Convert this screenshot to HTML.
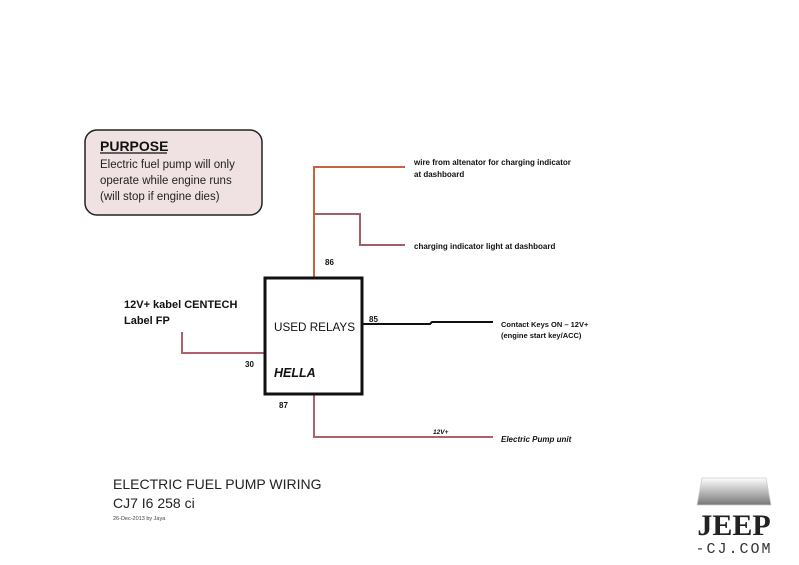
<!DOCTYPE html>
<html><head><style>
body{margin:0;background:#fff;}
svg{display:block;}
text{font-family:"Liberation Sans",sans-serif;}
</style></head><body>
<svg width="799" height="565" viewBox="0 0 799 565" xmlns="http://www.w3.org/2000/svg">
<rect width="799" height="565" fill="#fff"/>
<rect x="85" y="130" width="177" height="85" rx="12" fill="#f0e2e2" stroke="#222" stroke-width="1.5"/>
<text x="100" y="151" font-size="14" font-weight="bold" fill="#111">PURPOSE</text>
<line x1="100" y1="153" x2="167" y2="153" stroke="#111" stroke-width="1.2"/>
<text x="100" y="168" font-size="11.5" fill="#222">Electric fuel pump will only</text>
<text x="100" y="184" font-size="11.5" fill="#222">operate while engine runs</text>
<text x="100" y="200" font-size="11.5" fill="#222">(will stop if engine dies)</text>
<g fill="none" stroke-width="2">
<polyline points="314,277 314,167 405,167" stroke="#c8623a"/>
<polyline points="314,214 360,214 360,245 405,245" stroke="#a0606a"/>
<polyline points="362,324 430,324 432,322 493,322" stroke="#111"/>
<polyline points="182,332 182,353 264,353" stroke="#b0606a"/>
<polyline points="314,394 314,437 493,437" stroke="#b0606a"/>
</g>
<rect x="265" y="278" width="97" height="116" fill="#fff" stroke="#111" stroke-width="3"/>
<text x="274" y="331" font-size="12" fill="#111" textLength="81" lengthAdjust="spacingAndGlyphs">USED RELAYS</text>
<text x="274" y="377" font-size="12.5" font-weight="bold" font-style="italic" fill="#111">HELLA</text>
<g font-size="8" font-weight="bold" fill="#111">
<text x="325" y="265">86</text>
<text x="369" y="322">85</text>
<text x="245" y="367">30</text>
<text x="279" y="408">87</text>
<text x="414" y="165">wire from altenator for charging indicator</text>
<text x="414" y="177">at dashboard</text>
<text x="414" y="249">charging indicator light at dashboard</text>
<text x="501" y="327" font-size="7.5">Contact Keys ON – 12V+</text>
<text x="501" y="338" font-size="7.5">(engine start key/ACC)</text>
<text x="433" y="434" font-size="6.5" font-style="italic">12V+</text>
<text x="501" y="442" font-style="italic">Electric Pump unit</text>
</g>
<text x="124" y="308" font-size="11" font-weight="bold" fill="#111">12V+ kabel CENTECH</text>
<text x="124" y="324" font-size="11" font-weight="bold" fill="#111">Label FP</text>
<text x="113" y="489" font-size="14" fill="#222">ELECTRIC FUEL PUMP WIRING</text>
<text x="113" y="508" font-size="14" fill="#222">CJ7 I6 258 ci</text>
<text x="113" y="520" font-size="5.5" fill="#444">26-Dec-2013 by Jaya</text>
<defs><linearGradient id="g" x1="0" y1="0" x2="0" y2="1"><stop offset="0" stop-color="#fff"/><stop offset="1" stop-color="#777"/></linearGradient></defs>
<path d="M702,478 L766,478 L771,505 L697,505 Z" fill="url(#g)" stroke="#ccc" stroke-width="0.8"/>
<text x="734" y="535" font-size="30" font-weight="bold" fill="#222" text-anchor="middle" style="font-family:'Liberation Serif',serif">JEEP</text>
<text x="734" y="553" font-size="15" fill="#333" text-anchor="middle" letter-spacing="2" style="font-family:'Liberation Mono',monospace">-CJ.COM</text>
</svg>
</body></html>
